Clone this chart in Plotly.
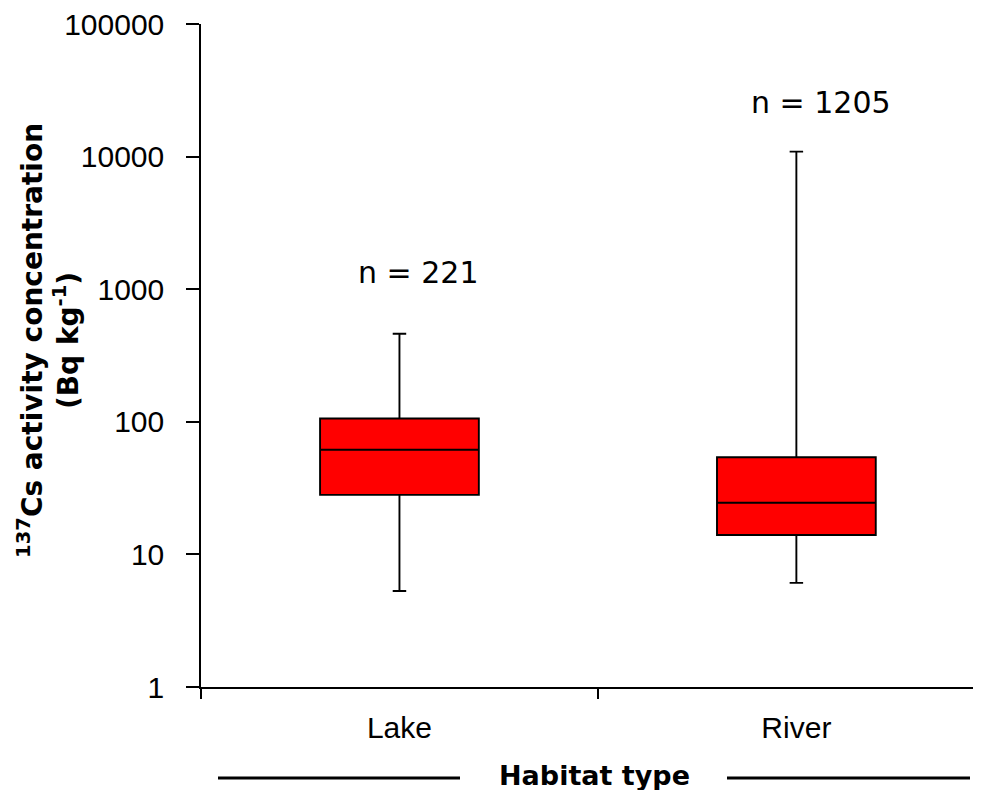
import math
import plotly.graph_objects as go

categories = ["Lake", "River"]
lower_whisker = [5.3, 6.1]
q1_values = [28.1, 14.0]
median_values = [61.5, 24.5]
q3_values = [106, 54]
upper_whisker = [461, 10900]
sample_sizes = [221, 1205]
n_label_y = [1333, 25500]
y_tick_vals = [1, 10, 100, 1000, 10000, 100000]
y_tick_text = ["1", "10", "100", "1000", "10000", "100000"]

# page has an 8px body margin; page coords -> figure coords
OFF = 8
W, H = 981 - 2 * OFF, 798 - 2 * OFF
ML = 201 - OFF
MT = 24 - OFF
MR = 0
MB = H - (687 - OFF)
PW = W - ML - MR
PH = H - MT - MB

def px_x(p):
    return (p - OFF - ML) / PW

def px_y(p):
    return (H - MB - (p - OFF)) / PH

fig = go.Figure()
fig.add_trace(go.Box(
    x=categories,
    lowerfence=lower_whisker,
    q1=q1_values,
    median=median_values,
    q3=q3_values,
    upperfence=upper_whisker,
    fillcolor="#ff0000",
    line=dict(color="black", width=1.9),
    width=0.4,
    whiskerwidth=0.085,
    boxpoints=False,
    hoverinfo="skip",
    showlegend=False,
))

for cat, n, yv, xs in zip(categories, sample_sizes, n_label_y, [19, 25]):
    fig.add_annotation(
        x=cat, y=math.log10(yv), xref="x", yref="y", yanchor="middle", xanchor="center",
        xshift=xs, text=f"n = {n}", showarrow=False,
        font=dict(family="DejaVu Sans", size=30, color="black"),
    )

fig.add_annotation(
    xref="paper", yref="paper", x=px_x(48), y=px_y(341),
    xanchor="center", yanchor="middle", textangle=-90,
    text="<b><sup>137</sup>Cs activity concentration<br>(Bq kg<sup>-1</sup>)</b>",
    showarrow=False,
    font=dict(family="DejaVu Sans", size=28, color="black"),
)

fig.add_annotation(
    xref="paper", yref="paper", x=px_x(594), y=px_y(775),
    xanchor="center", yanchor="middle",
    text="<b>Habitat type</b>", showarrow=False,
    font=dict(family="DejaVu Sans", size=27, color="black"),
)

for x0, x1 in [(218, 460), (727, 970)]:
    fig.add_shape(type="line", xref="paper", yref="paper",
                  x0=px_x(x0), x1=px_x(x1), y0=px_y(778), y1=px_y(778),
                  line=dict(color="black", width=3))

fig.update_layout(
    width=W, height=H,
    margin=dict(l=ML, r=MR, t=MT, b=MB),
    paper_bgcolor="white", plot_bgcolor="white",
    font=dict(family="Liberation Sans", size=30, color="black"),
)
fig.update_xaxes(
    type="category", categoryorder="array", categoryarray=categories,
    range=[-0.5, 1.445], tickson="boundaries",
    ticks="outside", ticklen=10, tickwidth=1.5, tickcolor="black",
    showline=True, linecolor="black", linewidth=1.5,
    showgrid=False, zeroline=False, ticklabelstandoff=13,
    tickfont=dict(family="Liberation Sans", size=30, color="black"),
)
fig.update_yaxes(
    type="log", range=[0, 5],
    tickvals=y_tick_vals, ticktext=y_tick_text,
    ticks="outside", ticklen=13, tickwidth=1.5, tickcolor="black",
    showline=True, linecolor="black", linewidth=1.5,
    showgrid=False, zeroline=False, ticklabelstandoff=16,
    ticklabeloverflow="allow",
    tickfont=dict(family="Liberation Sans", size=30, color="black"),
)

fig.write_html("out.html")
